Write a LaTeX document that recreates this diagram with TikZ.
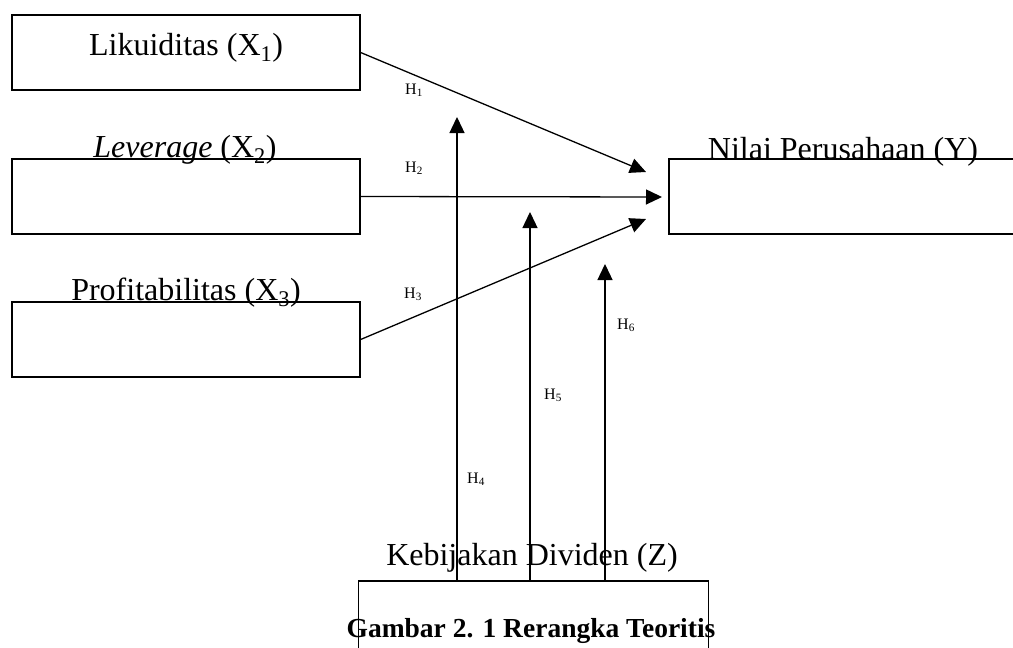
\documentclass[tikz,border=0pt]{standalone}
\usepackage{fontspec}
\setmainfont{Liberation Serif}
\usepackage{tikz}
\usetikzlibrary{arrows.meta}

\tikzset{
  varbox/.style={draw, line width=1.3pt, inner sep=0, minimum height=75pt},
  varname/.style={anchor=base, inner sep=0, font=\fontsize{32}{36}\selectfont},
  hyp/.style={anchor=base west, inner sep=0, font=\fontsize{16}{18}\selectfont},
  link/.style={line width=1.3pt, -{Triangle[length=16pt,width=15pt]}}
}

\begin{document}
\begin{tikzpicture}[x=1pt,y=-1pt]
\useasboundingbox (0,0) rectangle (1013,648);

%the boxes
    \node[varbox, minimum width=348pt] (x1) at (186,52.5) {};
    \node[varbox, minimum width=348pt] (x2) at (186,196.5) {};
    \node[varbox, minimum width=348pt] (x3) at (186,339.5) {};
    \node[varbox, minimum width=360pt] (y) at (849,196.5) {};
    \node[varbox, minimum width=350pt] (z) at (533.5,618.5) {};

%the names
    \node[varname] (nx1) at (186,55) {Likuiditas (X\textsubscript{1})};
    \node[varname] (nx2) at (185,157) {\textit{Leverage} (X\textsubscript{2})};
    \node[varname] (nx3) at (186,300) {Profitabilitas (X\textsubscript{3})};
    \node[varname] (ny) at (843,159) {Nilai Perusahaan (Y)};
    \node[varname] (nz) at (532,565) {Kebijakan Dividen (Z)};

%the arrow ends
    \coordinate (t1) at (646,172);
    \coordinate (t2) at (662,197);
    \coordinate (t3) at (646,219);
    \coordinate (t4) at (457,117);
    \coordinate (t5) at (530,212);
    \coordinate (t6) at (605,264);
    \coordinate (z4) at (457,581);
    \coordinate (z5) at (530,581);
    \coordinate (z6) at (605,581);

    \draw[link] (x1.east) to (t1);
    \draw[link] (x2.east) to (t2);
    \draw[link] (x3.east) to (t3);
    \draw[link] (z4) to (t4);
    \draw[link] (z5) to (t5);
    \draw[link] (z6) to (t6);

% place the hypotheses
    \node[hyp] (h1) at (405,94) {H\textsubscript{1}};
    \node[hyp] (h2) at (405,172) {H\textsubscript{2}};
    \node[hyp] (h3) at (404,298) {H\textsubscript{3}};
    \node[hyp] (h4) at (467,483) {H\textsubscript{4}};
    \node[hyp] (h5) at (544,399) {H\textsubscript{5}};
    \node[hyp] (h6) at (617,329) {H\textsubscript{6}};

%the caption
    \node[anchor=base, inner sep=0, font=\fontsize{27.5}{30}\selectfont\bfseries] (cap) at (531,637) {Gambar 2. 1 Rerangka Teoritis};
\end{tikzpicture}
\end{document}
